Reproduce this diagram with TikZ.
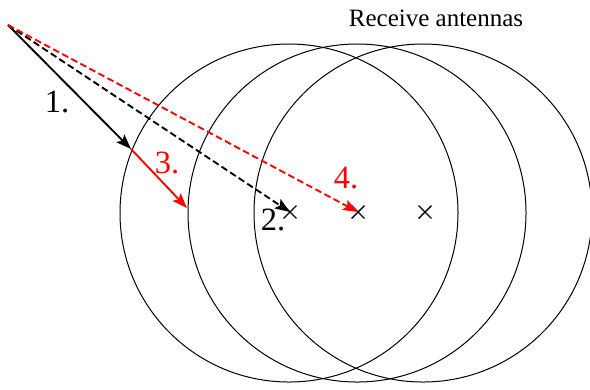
\documentclass[tikz,border=0pt]{standalone}
\usepackage{fontspec}
\setmainfont{Liberation Serif}
\usepackage{tikz}
\usetikzlibrary{arrows.meta,shapes.misc}

\begin{document}
\begin{tikzpicture}[
  x=0.4pt, y=-0.4pt,
  every node/.style={align=center, font=\rmfamily\fontsize{10}{12}\selectfont},
  antenna/.style={cross out, draw=black, line width=0.55pt, minimum size=4.6pt, inner sep=0pt},
  rangecircle/.style={draw=black, thin},
  ray/.style={-{Stealth[length=6pt, width=4.4pt, inset=1.2pt]}, line width=0.75pt},
  dashray/.style={ray, dash pattern=on 2.7pt off 1.4pt},
  steplabel/.style={font=\rmfamily\fontsize{13}{15}\selectfont}
]
\useasboundingbox (0,0) rectangle (590,389);

% --- RECEIVE ANTENNAS ---
\node[antenna] (ant1) at (290, 212) {};
\node[antenna] (ant2) at (358, 212) {};
\node[antenna] (ant3) at (425, 212) {};
\node (title) at (436, 18.5) {Receive antennas};

\draw[rangecircle] (289, 213) circle (169);
\draw[rangecircle] (357, 213) circle (169);
\draw[rangecircle] (423, 213) circle (169);

% --- TRANSMITTER AND RAYS ---
\coordinate (tx) at (8, 25);
\coordinate (hit1) at (131, 149);
\coordinate (hit2) at (187, 208);

\draw[ray] (tx) -- (hit1);
\draw[ray, red] (hit1) -- (hit2);
\draw[dashray] (tx) -- (ant1.center);
\draw[dashray, red] (tx) -- (ant2.center);

\node[steplabel] (s1) at (57, 102) {1.};
\node[steplabel] (s2) at (273, 220) {2.};
\node[steplabel, red] (s3) at (167, 163) {3.};
\node[steplabel, red] (s4) at (346, 178) {4.};

\end{tikzpicture}
\end{document}
